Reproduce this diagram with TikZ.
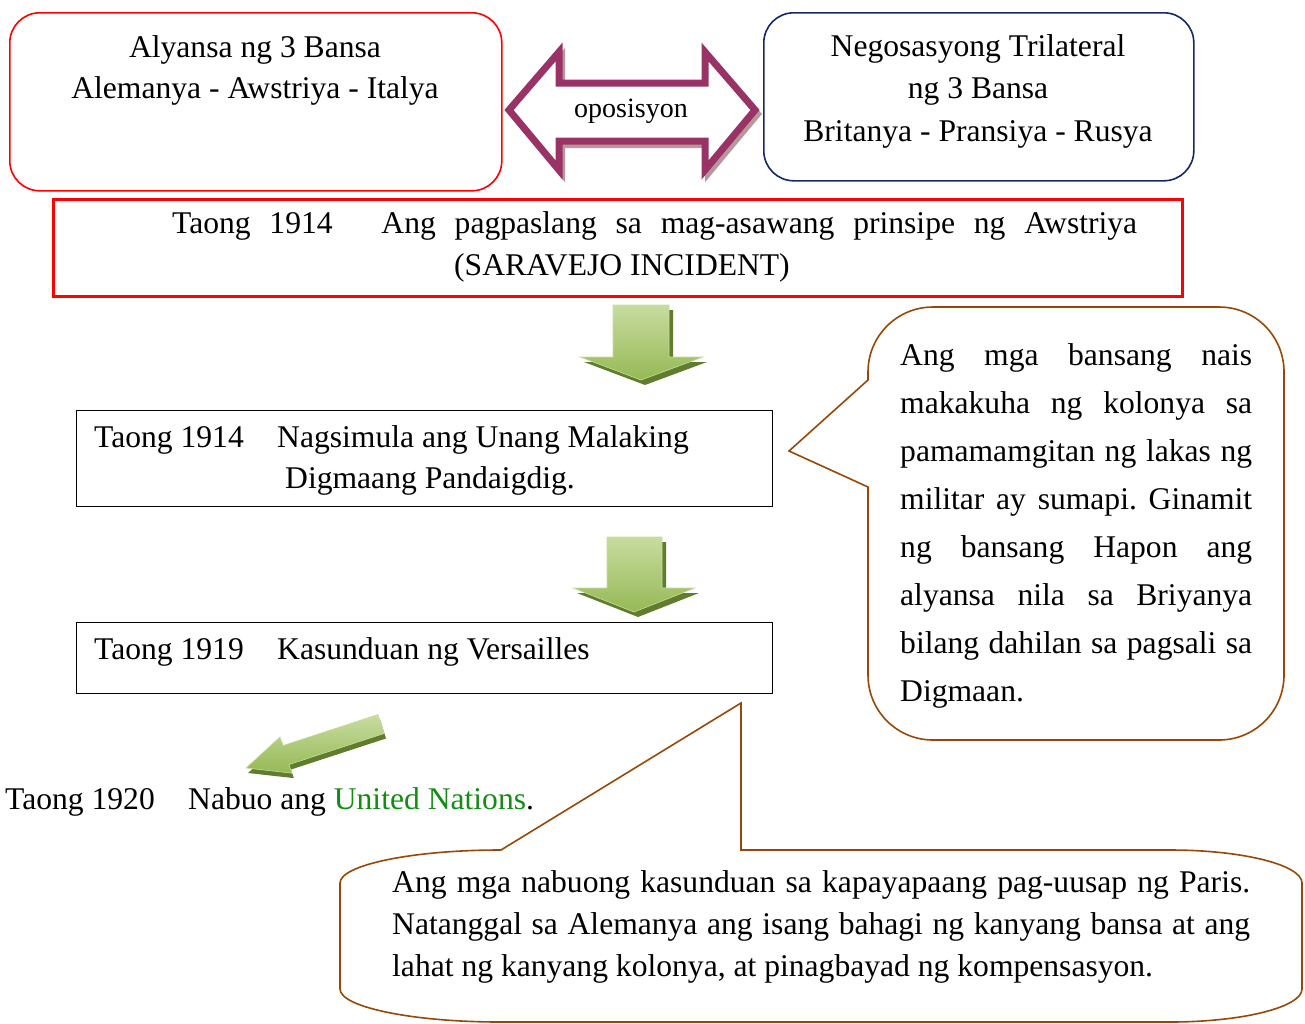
\documentclass[tikz,border=0pt]{standalone}
\usepackage{fontspec}
\setmainfont{Liberation Serif}
\frenchspacing
\definecolor{navybox}{RGB}{20,40,100}
\definecolor{plum}{RGB}{153,51,102}
\definecolor{plumshadow}{RGB}{185,150,155}
\definecolor{callbrown}{RGB}{152,72,6}
\definecolor{glight}{RGB}{200,220,160}
\definecolor{gmid}{RGB}{150,185,85}
\definecolor{gdark}{RGB}{95,125,45}
\definecolor{ungreen}{RGB}{20,140,20}
\begin{document}
\begin{tikzpicture}[x=1pt,y=-1pt,
  txt/.style={font=\fontsize{31.6}{42}\selectfont, inner sep=0pt},
  smalltxt/.style={font=\fontsize{28}{34}\selectfont, inner sep=0pt},
  boxframe/.style={draw, line width=1.6pt, inner sep=0pt, anchor=north west},
  callout/.style={draw=callbrown, line width=1.6pt, fill=white, line join=miter},
  garrow/.style={top color=glight, bottom color=gmid, draw=glight, line width=0.6pt},
  gshadow/.style={fill=gdark},
]
\useasboundingbox (0,0) rectangle (1305,1023);

% ---- top boxes ----
\node[boxframe, draw=red, rounded corners=30pt, minimum width=492pt, minimum height=178pt] (allybox) at (9,12) {};
\node[txt, anchor=base] (ally1) at (255,57) {Alyansa ng 3 Bansa};
\node[txt, anchor=base] (ally2) at (255,98) {Alemanya - Awstriya - Italya};

\node[boxframe, draw=navybox, rounded corners=30pt, minimum width=430pt, minimum height=168pt] (trbox) at (763,12) {};
\node[txt, anchor=base] (tr1) at (978,56) {Negosasyong Trilateral};
\node[txt, anchor=base] (tr2) at (978,98) {ng 3 Bansa};
\node[txt, anchor=base] (tr3) at (978,141) {Britanya - Pransiya - Rusya};

% ---- double arrow ----
\draw[plumshadow, line width=6pt, line join=miter, shift={(3,4)}]
  (509,110) -- (559,52) -- (559,83) -- (705,83) -- (705,52) -- (755,110)
  -- (705,170) -- (705,141) -- (559,141) -- (559,170) -- cycle;
\draw[plum, line width=7pt, line join=miter, fill=white]
  (509,110) -- (559,52) -- (559,83) -- (705,83) -- (705,52) -- (755,110)
  -- (705,170) -- (705,141) -- (559,141) -- (559,170) -- cycle;
\node[smalltxt, anchor=base] (opo) at (631,117) {oposisyon};

% ---- red box ----
\node[boxframe, draw=red, line width=3pt, minimum width=1129pt, minimum height=97pt] (sarbox) at (52,198) {};
\node[txt, anchor=base west] (sar1) at (172,233) {\makebox[965pt][s]{Taong 1914\hspace{30pt} Ang pagpaslang sa mag-asawang prinsipe ng Awstriya}};
\node[txt, anchor=base] (sar2) at (622,275) {(SARAVEJO INCIDENT)};

% ---- green down arrow 1 ----
\fill[gshadow, shift={(4,5)}] (613,305) -- (669,305) -- (669,357) -- (703,357) -- (641,380) -- (580,357) -- (613,357) -- cycle;
\shade[garrow] (613,305) -- (669,305) -- (669,357) -- (703,357) -- (641,380) -- (580,357) -- (613,357) -- cycle;

% ---- box 1914 ----
\node[boxframe, draw=black, line width=1.4pt, minimum width=696pt, minimum height=96pt] (wwbox) at (76,410) {};
\node[txt, anchor=base west] (ww1) at (94,447) {Taong 1914};
\node[txt, anchor=base west] (ww2) at (277,447) {Nagsimula ang Unang Malaking};
\node[txt, anchor=base west] (ww3) at (285,488) {Digmaang Pandaigdig.};

% ---- green down arrow 2 ----
\fill[gshadow, shift={(4,5)}] (607,537) -- (662,537) -- (662,588) -- (695,588) -- (634,612) -- (573,588) -- (607,588) -- cycle;
\shade[garrow] (607,537) -- (662,537) -- (662,588) -- (695,588) -- (634,612) -- (573,588) -- (607,588) -- cycle;

% ---- box 1919 ----
\node[boxframe, draw=black, line width=1.4pt, minimum width=696pt, minimum height=71pt] (verbox) at (76,622) {};
\node[txt, anchor=base west] (ver1) at (94,659) {Taong 1919};
\node[txt, anchor=base west] (ver2) at (277,659) {Kasunduan ng Versailles};

% ---- diagonal arrow ----
\fill[gshadow, shift={(2,5)}] (378,714.5) -- (384,733.5) -- (289,764.5) -- (291.8,773.1) -- (246,768) -- (280,736.9) -- (282.8,745.5) -- cycle;
\shade[garrow] (378,714.5) -- (384,733.5) -- (289,764.5) -- (291.8,773.1) -- (246,768) -- (280,736.9) -- (282.8,745.5) -- cycle;

% ---- 1920 line ----
\node[txt, anchor=base west] (un1) at (5,809) {Taong 1920};
\node[txt, anchor=base west] (un2) at (188,809) {Nabuo ang \textcolor{ungreen}{United Nations}.};

% ---- right callout ----
\draw[callout] (868,380) -- (789,451) -- (868,487) -- (868,675)
  .. controls (868,711) and (897,740) .. (933,740) -- (1219,740)
  .. controls (1255,740) and (1284,711) .. (1284,675) -- (1284,372)
  .. controls (1284,336) and (1255,307) .. (1219,307) -- (933,307)
  .. controls (897,307) and (868,336) .. (868,372) -- cycle;
\node[txt, anchor=base west] (c1) at (900,365) {\makebox[352pt][s]{Ang mga bansang nais}};
\node[txt, anchor=base west] (c2) at (900,413) {\makebox[352pt][s]{makakuha ng kolonya sa}};
\node[txt, anchor=base west] (c3) at (900,461) {\makebox[352pt][s]{pamamamgitan ng lakas ng}};
\node[txt, anchor=base west] (c4) at (900,509) {\makebox[352pt][s]{militar ay sumapi. Ginamit}};
\node[txt, anchor=base west] (c5) at (900,557) {\makebox[352pt][s]{ng bansang Hapon ang}};
\node[txt, anchor=base west] (c6) at (900,605) {\makebox[352pt][s]{alyansa nila sa Briyanya}};
\node[txt, anchor=base west] (c7) at (900,653) {\makebox[352pt][s]{bilang dahilan sa pagsali sa}};
\node[txt, anchor=base west] (c8) at (900,701) {Digmaan.};

% ---- bottom callout ----
\draw[callout] (501,850) -- (741,703) -- (741,850) -- (1170,850)
  .. controls (1243,850) and (1302,865) .. (1302,883) -- (1302,989)
  .. controls (1302,1007) and (1243,1022) .. (1170,1022) -- (500,1022)
  .. controls (412,1022) and (340,1007) .. (340,989) -- (340,883)
  .. controls (340,865) and (412,850) .. (500,850) -- cycle;
\node[txt, anchor=base west] (b1) at (392,892) {\makebox[858pt][s]{Ang mga nabuong kasunduan sa kapayapaang pag-uusap ng Paris.}};
\node[txt, anchor=base west] (b2) at (392,934) {\makebox[858pt][s]{Natanggal sa Alemanya ang isang bahagi ng kanyang bansa at ang}};
\node[txt, anchor=base west] (b3) at (392,976) {lahat ng kanyang kolonya, at pinagbayad ng kompensasyon.};
\end{tikzpicture}
\end{document}
